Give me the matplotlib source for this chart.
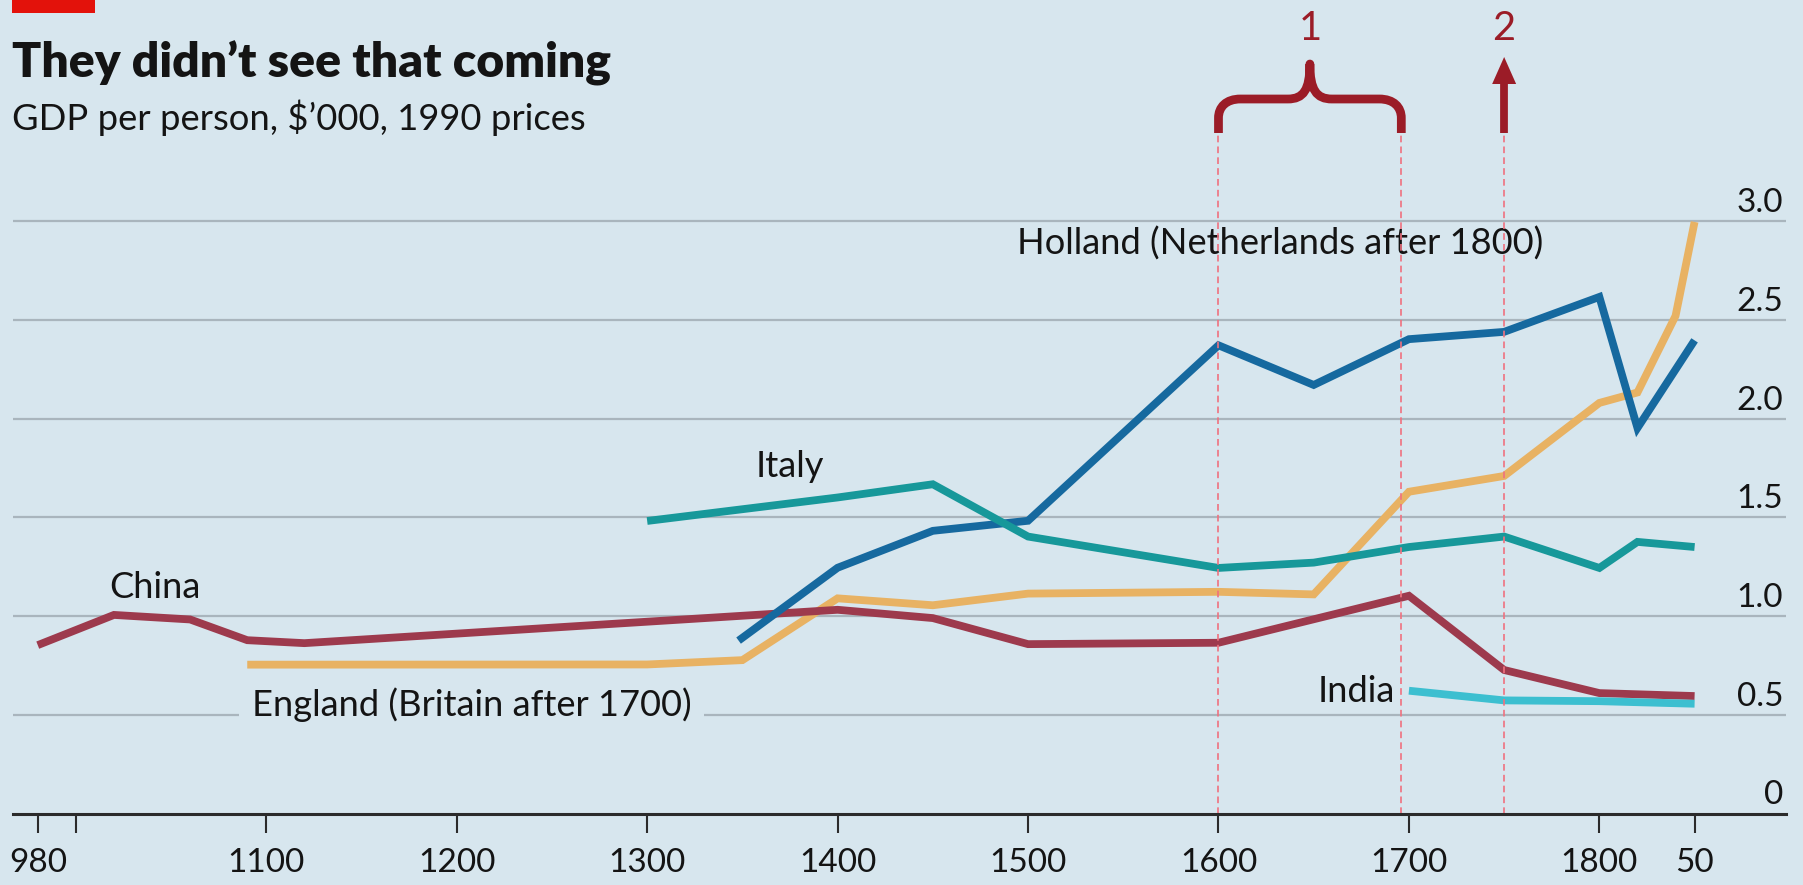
import matplotlib
matplotlib.use("Agg")
import matplotlib.pyplot as plt
from matplotlib import font_manager as fm
from matplotlib.path import Path
from matplotlib.patches import PathPatch, Rectangle, Polygon
import matplotlib.transforms as mtransforms

# ---------------- data ----------------
china_years = [980, 1020, 1060, 1090, 1120, 1400, 1450, 1500, 1600, 1700, 1750, 1800, 1850]
china_vals = [0.853, 1.006, 0.983, 0.878, 0.863, 1.032, 0.990, 0.858, 0.865, 1.103, 0.727, 0.610, 0.595]

england_years = [1090, 1300, 1350, 1400, 1450, 1500, 1600, 1650, 1700, 1750, 1800, 1820, 1840, 1850]
england_vals = [0.754, 0.755, 0.777, 1.090, 1.055, 1.114, 1.123, 1.110, 1.630, 1.710, 2.080, 2.133, 2.521, 2.997]

holland_years = [1348, 1400, 1450, 1500, 1600, 1650, 1700, 1750, 1800, 1820, 1850]
holland_vals = [0.876, 1.245, 1.432, 1.483, 2.372, 2.171, 2.403, 2.440, 2.617, 1.953, 2.397]

italy_years = [1300, 1400, 1450, 1500, 1600, 1650, 1700, 1750, 1800, 1820, 1850]
italy_vals = [1.482, 1.601, 1.668, 1.403, 1.244, 1.271, 1.350, 1.403, 1.244, 1.376, 1.350]

india_years = [1700, 1750, 1800, 1850]
india_vals = [0.622, 0.573, 0.569, 0.556]

x_ticks = [980, 1000, 1100, 1200, 1300, 1400, 1500, 1600, 1700, 1800, 1850]
x_tick_labels = ["980", "", "1100", "1200", "1300", "1400", "1500", "1600", "1700", "1800", "50"]
y_ticks = [0, 0.5, 1.0, 1.5, 2.0, 2.5, 3.0]
y_tick_labels = ["0", "0.5", "1.0", "1.5", "2.0", "2.5", "3.0"]

marker_years = [1600, 1696, 1750]

title = "They didn\u2019t see that coming"
subtitle = "GDP per person, $\u2019000, 1990 prices"

# ---------------- style ----------------
BG = "#d7e6ee"
GRID = "#a9b5bd"
AXC = "#2b2b2b"
TXT = "#141414"
RED = "#e3120b"
ANN = "#9b1c27"
DASH = "#f0717f"
C_CHINA = "#9d3a4d"
C_ENG = "#e8b263"
C_HOL = "#16699f"
C_ITA = "#17989a"
C_IND = "#3cbfd0"

names = {f.name for f in fm.fontManager.ttflist}
fam = [f for f in ["Liberation Sans Narrow", "Lato", "DejaVu Sans"] if f in names] or ["DejaVu Sans"]
plt.rcParams["font.family"] = fam

W, H = 1803, 885
fig = plt.figure(figsize=(W / 100, H / 100), dpi=100, facecolor=BG)
ax_left, ax_right, ax_bot, ax_top = 13, 1786, 813.5, 132.5
ax = fig.add_axes([ax_left / W, 1 - ax_bot / H, (ax_right - ax_left) / W, (ax_bot - ax_top) / H])
ax.set_facecolor(BG)
ax.set_xlim(967, 1898)
ax.set_ylim(0, 3.45)
for s in ["left", "right", "top"]:
    ax.spines[s].set_visible(False)
ax.spines["bottom"].set_color(AXC)
ax.spines["bottom"].set_linewidth(2.2)
ax.spines["bottom"].set_zorder(6)

px_per_year = (ax_right - ax_left) / (1898 - 967)
px_per_unit = (ax_bot - ax_top) / 3.45

renderer = fig.canvas.get_renderer()


def fit_size(s, target_px, **kw):
    t = fig.text(0, 0, s, fontsize=20, **kw)
    w = t.get_window_extent(renderer).width
    t.remove()
    return 20 * target_px / w


# grid
for v in y_ticks[1:]:
    ax.axhline(v, color=GRID, lw=1.6, zorder=0.5)

# ticks
tick_fs = fit_size("1500", 68) * 1.14
ax.set_xticks(x_ticks)
ax.set_xticklabels(x_tick_labels)
ax.tick_params(axis="x", length=14, width=1.5, color=AXC, pad=11, labelsize=tick_fs, labelcolor=TXT)
ax.tick_params(axis="y", left=False, labelleft=False)

ytrans = mtransforms.blended_transform_factory(ax.transAxes, ax.transData)
yoff = mtransforms.offset_copy(ytrans, fig=fig, x=0, y=9, units="dots")
xr = (1783 - ax_left) / (ax_right - ax_left)
for v, lab in zip(y_ticks, y_tick_labels):
    ax.text(xr, v, lab, transform=yoff, ha="right", va="baseline", fontsize=tick_fs, color=TXT, zorder=7)

# series
lw = 5.6
series = [
    (england_years, england_vals, C_ENG),
    (china_years, china_vals, C_CHINA),
    (holland_years, holland_vals, C_HOL),
    (italy_years, italy_vals, C_ITA),
    (india_years, india_vals, C_IND),
]
for i, (xs, ys, c) in enumerate(series):
    ax.plot(xs, ys, color=c, lw=lw, solid_capstyle="butt", solid_joinstyle="miter", zorder=3 + i * 0.1)

# labels (common size)
labels = [
    ("Holland (Netherlands after 1800)", 1494.0, 2.829, 503),
    ("Italy", 1357.0, 1.705, 71),
    ("China", 1017.3, 1.092, 92),
    ("England (Britain after 1700)", 1092.4, 0.494, 441),
    ("India", 1652.0, 0.565, 77),
]
widths = []
for s, _, _, tw in labels:
    t = fig.text(0, 0, s, fontsize=20)
    widths.append(t.get_window_extent(renderer).width)
    t.remove()
lab_fs = 20 * sum(l[3] for l in labels) / sum(widths) * 1.02
for s, x, y, _ in labels:
    kw = {}
    if s.startswith("England"):
        kw["bbox"] = dict(boxstyle="square,pad=0.35", facecolor=BG, edgecolor="none")
    ax.text(x, y, s, ha="left", va="baseline", fontsize=lab_fs, color=TXT, zorder=1, **kw)

# dashed markers
ytop = 3.447
ax.vlines(marker_years, 0, ytop, colors=DASH, linestyles=(0, (4, 2.5)), lw=1.2, zorder=5, clip_on=False)

# brace over first two marker years
xl, xrr = marker_years[0], marker_years[1]
xc = (xl + xrr) / 2
r = 22 / px_per_year


def val(py):
    return (ax_bot - py) / px_per_unit


yb, yh, yk, ycusp = val(133), val(118), val(99), val(64)
verts = [
    (xl, yb), (xl, yh),
    (xl, val(107)), (xl + 0.35 * r, yk), (xl + r, yk),
    (xc - r, yk),
    (xc - 0.3 * r, yk), (xc, val(90)), (xc, ycusp),
    (xc, val(90)), (xc + 0.3 * r, yk), (xc + r, yk),
    (xrr - r, yk),
    (xrr - 0.35 * r, yk), (xrr, val(107)), (xrr, yh),
    (xrr, yb),
]
codes = [Path.MOVETO, Path.LINETO,
         Path.CURVE4, Path.CURVE4, Path.CURVE4,
         Path.LINETO,
         Path.CURVE4, Path.CURVE4, Path.CURVE4,
         Path.CURVE4, Path.CURVE4, Path.CURVE4,
         Path.LINETO,
         Path.CURVE4, Path.CURVE4, Path.CURVE4,
         Path.LINETO]
brace = PathPatch(Path(verts, codes), facecolor="none", edgecolor=ANN, lw=6.3,
                  capstyle="butt", joinstyle="round", clip_on=False, zorder=8)
ax.add_patch(brace)

# arrow at third marker year
xa = marker_years[2]
hw = 12 / px_per_year
ax.plot([xa, xa], [yb, val(80)], color=ANN, lw=5.6, solid_capstyle="butt", clip_on=False, zorder=8)
ax.add_patch(Polygon([(xa, val(57)), (xa - hw, val(84)), (xa + hw, val(84))], closed=True,
                     facecolor=ANN, edgecolor="none", clip_on=False, zorder=8))

num_fs = fit_size("2", 23)
ax.text(xc, val(40), "1", ha="center", va="baseline", fontsize=num_fs, color=ANN, clip_on=False)
ax.text(xa, val(40), "2", ha="center", va="baseline", fontsize=num_fs, color=ANN, clip_on=False)

# header
fig.patches.append(Rectangle((12 / W, 1 - 13 / H), 83 / W, 13 / H, transform=fig.transFigure,
                             facecolor=RED, edgecolor="none"))
t_fs = fit_size(title, 600, fontweight="heavy") * 1.0
fig.text(12 / W, 1 - 77 / H, title, fontsize=t_fs, fontweight="heavy", color=TXT, va="baseline")
s_fs = fit_size(subtitle, 575)
fig.text(12 / W, 1 - 130 / H, subtitle, fontsize=s_fs, color=TXT, va="baseline")

fig.savefig("out.png", dpi=100, facecolor=BG)
